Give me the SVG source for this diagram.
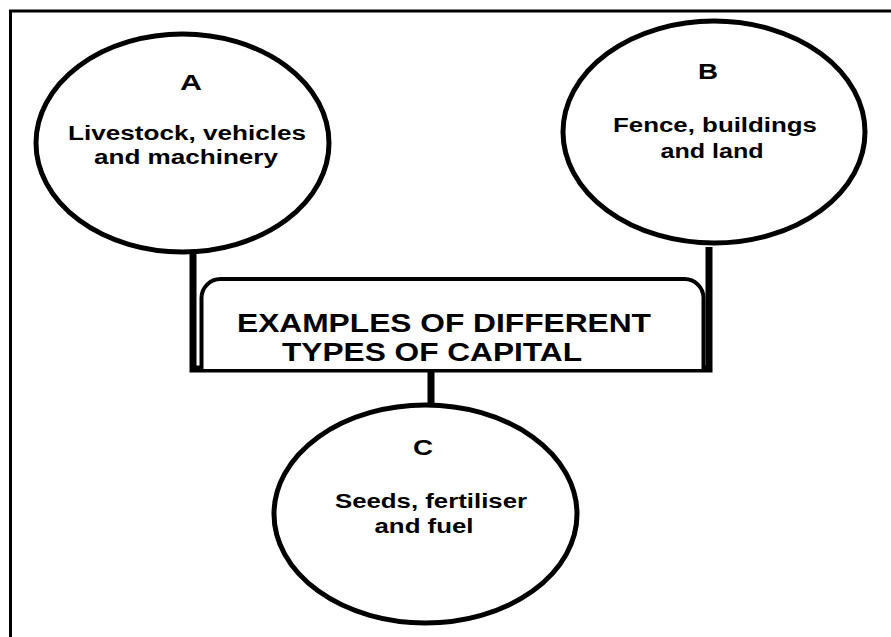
<svg xmlns="http://www.w3.org/2000/svg" width="891" height="637" viewBox="0 0 891 637">
<style>
  .node ellipse { fill: #ffffff; stroke: #000; stroke-width: 5; }
  .lbl { font-family: "Liberation Sans", Arial, sans-serif; font-weight: bold; fill: #000; text-anchor: middle; }
  .letter { font-size: 22px; }
  .desc { font-size: 20px; }
  .title { font-size: 26px; }
  .conn { fill: none; stroke: #000; stroke-width: 7; }
</style>
<rect x="0" y="0" width="891" height="637" fill="#ffffff"/>
<path d="M10.5,637 V11 H891" fill="none" stroke="#000" stroke-width="3"/>

<g id="connectors">
  <path class="conn" d="M193,253 V369 H709 V247"/>
  <path class="conn" d="M431,369 V406"/>
</g>

<g id="center">
  <path d="M201.5,369 V298 A19,19 0 0 1 220.5,279 H684.5 A19,19 0 0 1 703.5,298 V369" fill="#ffffff" stroke="#000" stroke-width="4"/>
  <text class="lbl title" x="444" y="332" textLength="414" lengthAdjust="spacingAndGlyphs">EXAMPLES OF DIFFERENT</text>
  <text class="lbl title" x="432" y="361" textLength="300" lengthAdjust="spacingAndGlyphs">TYPES OF CAPITAL</text>
</g>

<g id="nodeA" class="node">
  <ellipse cx="182.5" cy="143" rx="146.5" ry="109"/>
  <text class="lbl letter" x="191" y="90" textLength="22" lengthAdjust="spacingAndGlyphs">A</text>
  <text class="lbl desc" x="187" y="140" textLength="238" lengthAdjust="spacingAndGlyphs">Livestock, vehicles</text>
  <text class="lbl desc" x="186" y="164" textLength="184" lengthAdjust="spacingAndGlyphs">and machinery</text>
</g>

<g id="nodeB" class="node">
  <ellipse cx="714" cy="132" rx="151" ry="111"/>
  <text class="lbl letter" x="708" y="79" textLength="20" lengthAdjust="spacingAndGlyphs">B</text>
  <text class="lbl desc" x="715" y="132" textLength="204" lengthAdjust="spacingAndGlyphs">Fence, buildings</text>
  <text class="lbl desc" x="712" y="158" textLength="103" lengthAdjust="spacingAndGlyphs">and land</text>
</g>

<g id="nodeC" class="node">
  <ellipse cx="425.5" cy="514" rx="151.5" ry="109"/>
  <text class="lbl letter" x="423" y="455" textLength="20" lengthAdjust="spacingAndGlyphs">C</text>
  <text class="lbl desc" x="431" y="508" textLength="192" lengthAdjust="spacingAndGlyphs">Seeds, fertiliser</text>
  <text class="lbl desc" x="424" y="533" textLength="99" lengthAdjust="spacingAndGlyphs">and fuel</text>
</g>
</svg>
